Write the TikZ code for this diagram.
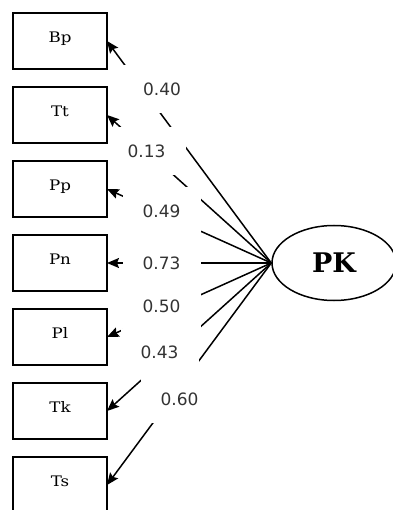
\documentclass[tikz,border=0pt]{standalone}
\usepackage{fontspec}
\usetikzlibrary{arrows.meta,shapes.geometric}
\newfontfamily\numfont{DejaVu Sans}
\newfontfamily\boxfont[FakeStretch=1.15]{DejaVu Serif}
\newfontfamily\pkfont{DejaVu Serif}
\begin{document}
\begin{tikzpicture}[x=1pt,y=-1pt,
  obs/.style={draw,line width=1.5pt,minimum width=94pt,minimum height=56pt,inner sep=0pt,font=\boxfont\fontsize{14.5}{16}\selectfont},
  lat/.style={draw,ellipse,line width=1.5pt,minimum width=124pt,minimum height=75pt,inner sep=0pt,font=\pkfont\bfseries\fontsize{27}{30}\selectfont},
  wt/.style={fill=white,minimum width=78pt,minimum height=48pt,inner sep=0pt,text=black!80,font=\numfont\fontsize{17}{20}\selectfont},
  path/.style={line width=1.5pt,-{Stealth[length=12pt,width=10pt,inset=2pt]}}]
\useasboundingbox (0,0) rectangle (392,510);
\node[lat] (pk) at (334,263) {PK};
\coordinate (o) at (pk.west);
\path (60,41) coordinate (cbp) (60,115) coordinate (ctt) (60,189) coordinate (cpp)
      (60,263) coordinate (cpn) (60,337) coordinate (cpl) (60,411) coordinate (ctk) (60,485) coordinate (cts);
\coordinate (ebp) at (107,41);
\coordinate (ett) at (107,115);
\coordinate (epp) at (107,189);
\coordinate (epn) at (107,263);
\coordinate (epl) at (107,337);
\coordinate (etk) at (107,411);
\coordinate (ets) at (107,485);
\foreach \e in {ebp,ett,epp,epn,epl,etk,ets}{\draw[path] (o) -- (\e);}
% weight labels with white masks
\node[wt] (w1) at (162,89.5) {0.40};
\node[wt] (w2) at (146.5,151) {0.13};
\node[wt] (w3) at (161.5,211) {0.49};
\node[wt] (w4) at (161.5,263) {0.73};
\node[wt] (w5) at (161.5,306) {0.50};
\node[wt] (w6) at (159.5,352.5) {0.43};
\node[wt] (w7) at (179.5,399) {0.60};
% observed boxes
\node[obs] (bp) at (cbp) {\raisebox{8pt}{Bp}};
\node[obs] (tt) at (ctt) {\raisebox{8pt}{Tt}};
\node[obs] (pp) at (cpp) {\raisebox{8pt}{Pp}};
\node[obs] (pn) at (cpn) {\raisebox{8pt}{Pn}};
\node[obs] (pl) at (cpl) {\raisebox{8pt}{Pl}};
\node[obs] (tk) at (ctk) {\raisebox{8pt}{Tk}};
\node[obs] (ts) at (cts) {\raisebox{8pt}{Ts}};
\end{tikzpicture}
\end{document}
